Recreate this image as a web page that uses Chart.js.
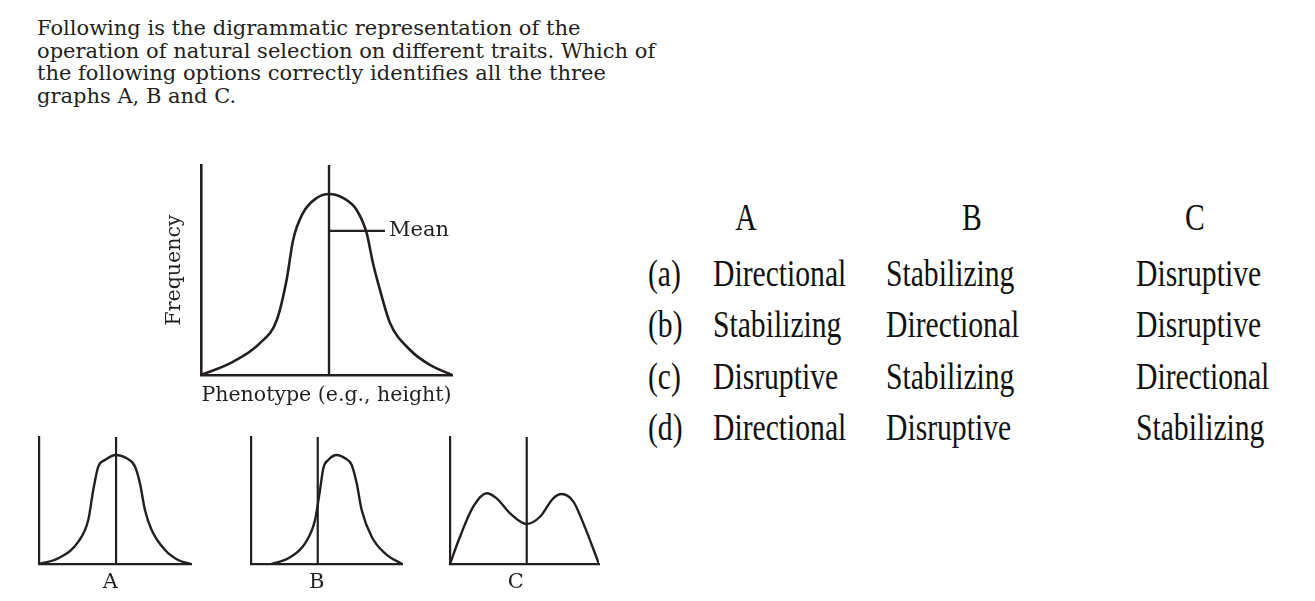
<!DOCTYPE html>
<html>
<head>
<meta charset="utf-8">
<title>Natural selection graphs</title>
<script src="https://cdn.jsdelivr.net/npm/chart.js@4.4.1/dist/chart.umd.min.js"></script>
<style>
    html, body {
        margin: 0;
        padding: 0;
        background: #ffffff;
    }
    body {
        position: relative;
        width: 1315px;
        height: 601px;
        overflow: hidden;
        color: #231f20;
    }
    canvas {
        position: absolute;
    }
    .question {
        position: absolute;
        left: 37px;
        top: 17px;
        font-family: "DejaVu Serif", serif;
        font-size: 21px;
        line-height: 22.7px;
        white-space: nowrap;
    }
    .cell {
        position: absolute;
        font-family: "Liberation Serif", serif;
        font-size: 38px;
        line-height: 38px;
        color: #111111;
        white-space: nowrap;
        transform-origin: 0 0;
        transform: scaleX(0.78);
    }
    .cell.head {
        transform-origin: 50% 0;
        transform: translateX(-50%) scaleX(0.78);
    }
</style>
</head>
<body>
<div class="question" id="question"></div>
<div id="answers"></div>

<script>
const ink = '#231f20';

const questionLines = [
    'Following is the digrammatic representation of the',
    'operation of natural selection on different traits. Which of',
    'the following options correctly identifies all the three',
    'graphs A, B and C.'
];

// big reference graph (phenotype 0-100, frequency 0-100)
const mainPhenotype = [0, 12.7, 23.5, 30.2, 34.1, 36.7, 40.6, 46.1, 51.0, 56.6, 62.0, 66.0, 68.5, 71.3, 75.3, 83.3, 91.2, 100];
const mainFrequency = [0, 6.3, 15.2, 26.2, 45.2, 64.3, 77.1, 84.3, 86.2, 84.3, 78.6, 67.6, 53.3, 40.5, 24.8, 11.9, 4.8, 0];
const mainMean = 51;
const meanMarkLevel = 68.6;
const meanMarkEnd = 73.3;
const xTitle = 'Phenotype (e.g., height)';
const yTitle = 'Frequency';
const meanText = 'Mean';

// graphs A, B, C
const graphNames = ['A', 'B', 'C'];
const graphMeans = [50.7, 44.2, 51.5];
const phenotypeA = [0, 12.7, 25.9, 32.4, 35.7, 39.0, 43.4, 50.7, 57.7, 63.2, 66.4, 69.7, 74.1, 82.9, 91.6, 100];
const frequencyA = [0, 4.5, 17.6, 34.6, 58.3, 76.6, 81.9, 85.8, 83.2, 76.6, 63.5, 42.5, 26.8, 11.0, 3.1, 0];
const phenotypeB = [13.7, 24.7, 35.8, 42.4, 45.7, 47.9, 51.2, 56.8, 62.3, 66.7, 70.0, 73.3, 79.9, 88.7, 100];
const frequencyB = [0, 4.5, 16.3, 34.6, 58.3, 75.4, 81.9, 85.8, 83.2, 78.0, 63.5, 42.5, 21.5, 8.4, 0];
const phenotypeC = [0, 6.7, 15.6, 24.6, 31.3, 40.3, 51.5, 60.4, 69.3, 74.9, 82.8, 89.5, 100];
const frequencyC = [0, 21.5, 45.1, 55.7, 51.7, 39.9, 31.5, 37.2, 51.7, 55.1, 49.1, 32.0, 0];

// answer table
const columnHeads = ['A', 'B', 'C'];
const optionKeys = ['(a)', '(b)', '(c)', '(d)'];
const answersA = ['Directional', 'Stabilizing', 'Disruptive', 'Directional'];
const answersB = ['Stabilizing', 'Directional', 'Stabilizing', 'Disruptive'];
const answersC = ['Disruptive', 'Disruptive', 'Directional', 'Stabilizing'];


function toPoints(xs, ys) {
    return xs.map((x, i) => ({ x: x, y: ys[i] }));
}

function curveSet(points, width) {
    return {
        data: points,
        borderColor: ink,
        borderWidth: width,
        pointRadius: 0,
        cubicInterpolationMode: 'monotone',
        fill: false
    };
}

function straightSet(points, width) {
    return {
        data: points,
        borderColor: ink,
        borderWidth: width,
        pointRadius: 0,
        tension: 0,
        fill: false
    };
}

function addCanvas(box) {
    const canvas = document.createElement('canvas');
    canvas.width = box.w;
    canvas.height = box.h;
    canvas.style.left = box.x + 'px';
    canvas.style.top = box.y + 'px';
    document.body.appendChild(canvas);
    return canvas;
}

// writes "Mean" at the end of the pointer line
const meanLabelPlugin = {
    id: 'meanLabel',
    afterDatasetsDraw(chart, args, opts) {
        if (!opts.text) return;
        const meta = chart.getDatasetMeta(opts.datasetIndex);
        const end = meta.data[meta.data.length - 1];
        const ctx = chart.ctx;
        ctx.save();
        ctx.font = opts.font;
        ctx.fillStyle = ink;
        ctx.textBaseline = 'middle';
        ctx.textAlign = 'left';
        ctx.fillText(opts.text, end.x + opts.gap, end.y);
        ctx.restore();
    }
};

function renderQuestion() {
    const el = document.getElementById('question');
    questionLines.forEach(line => {
        const div = document.createElement('div');
        div.textContent = line;
        el.appendChild(div);
    });
}

function renderMainGraph() {
    const box = { x: 150, y: 150, w: 320, h: 270 };
    const area = { l: 201, t: 165, r: 452, b: 375 };
    const titleSize = 20.5;
    const lineHeight = titleSize * 1.2;
    const padLeft = 12.5;
    const xTitleTop = 8.8;

    new Chart(addCanvas(box), {
        type: 'line',
        data: {
            datasets: [
                curveSet(toPoints(mainPhenotype, mainFrequency), 2.6),
                straightSet([{ x: mainMean, y: 0 }, { x: mainMean, y: 100 }], 2.4),
                straightSet([{ x: mainMean, y: meanMarkLevel }, { x: meanMarkEnd, y: meanMarkLevel }], 2.2)
            ]
        },
        options: {
            responsive: false,
            animation: false,
            devicePixelRatio: 1,
            layout: {
                padding: {
                    left: padLeft,
                    top: area.t - box.y,
                    right: box.x + box.w - area.r,
                    bottom: box.y + box.h - area.b - lineHeight - xTitleTop
                }
            },
            plugins: {
                legend: { display: false },
                tooltip: { enabled: false },
                meanLabel: {
                    text: meanText,
                    datasetIndex: 2,
                    gap: 4,
                    font: '21px "DejaVu Serif"'
                }
            },
            scales: {
                x: {
                    type: 'linear',
                    min: 0,
                    max: 100,
                    grid: { display: false, drawTicks: false },
                    border: { display: true, color: ink, width: 2.6 },
                    ticks: { display: false },
                    title: {
                        display: true,
                        text: xTitle,
                        color: ink,
                        font: { family: 'DejaVu Serif', size: titleSize },
                        padding: { top: xTitleTop, bottom: 0 }
                    }
                },
                y: {
                    type: 'linear',
                    min: 0,
                    max: 100,
                    grid: { display: false, drawTicks: false },
                    border: { display: true, color: ink, width: 2.6 },
                    ticks: { display: false },
                    title: {
                        display: true,
                        text: yTitle,
                        color: ink,
                        font: { family: 'DejaVu Serif', size: titleSize },
                        padding: { top: 0, bottom: area.l - box.x - padLeft - lineHeight }
                    }
                }
            }
        },
        plugins: [meanLabelPlugin]
    });
}

function renderSmallGraph(index, xs, ys, box, area, labelAt) {
    const labelSize = 21;
    const labelPad = 6;
    const labelHeight = labelSize * 1.2 + labelPad * 2;

    new Chart(addCanvas(box), {
        type: 'line',
        data: {
            datasets: [
                curveSet(toPoints(xs, ys), 2.4),
                straightSet([{ x: graphMeans[index], y: 0 }, { x: graphMeans[index], y: 100 }], 2.2)
            ]
        },
        options: {
            responsive: false,
            animation: false,
            devicePixelRatio: 1,
            layout: {
                padding: {
                    left: area.l - box.x,
                    top: area.t - box.y,
                    right: box.x + box.w - area.r,
                    bottom: box.y + box.h - area.b - labelHeight
                }
            },
            plugins: {
                legend: { display: false },
                tooltip: { enabled: false }
            },
            scales: {
                x: {
                    type: 'linear',
                    min: 0,
                    max: 100,
                    grid: { display: false, drawTicks: false },
                    border: { display: true, color: ink, width: 2.2 },
                    afterBuildTicks: axis => { axis.ticks = [{ value: labelAt }]; },
                    ticks: {
                        display: true,
                        autoSkip: false,
                        maxRotation: 0,
                        padding: labelPad,
                        color: ink,
                        font: { family: 'DejaVu Serif', size: labelSize },
                        callback: () => graphNames[index]
                    }
                },
                y: {
                    type: 'linear',
                    min: 0,
                    max: 100,
                    grid: { display: false, drawTicks: false },
                    border: { display: true, color: ink, width: 2.2 },
                    ticks: { display: false }
                }
            }
        }
    });
}

function renderAnswers() {
    const el = document.getElementById('answers');
    const headX = [746, 972, 1195];
    const headY = 217;
    const colX = [648, 713, 886, 1136];
    const firstRowY = 273;
    const rowStep = 51.3;
    const half = 19;

    const put = (text, x, y, head) => {
        const div = document.createElement('div');
        div.className = head ? 'cell head' : 'cell';
        div.textContent = text;
        div.style.left = x + 'px';
        div.style.top = (y - half) + 'px';
        el.appendChild(div);
    };

    columnHeads.forEach((h, i) => put(h, headX[i], headY, true));
    optionKeys.forEach((key, i) => {
        const y = firstRowY + i * rowStep;
        put(key, colX[0], y);
        put(answersA[i], colX[1], y);
        put(answersB[i], colX[2], y);
        put(answersC[i], colX[3], y);
    });
}

renderQuestion();
renderMainGraph();
renderSmallGraph(0, phenotypeA, frequencyA,
    { x: 20, y: 425, w: 185, h: 176 }, { l: 39, t: 437, r: 191, b: 564 }, 46.9);
renderSmallGraph(1, phenotypeB, frequencyB,
    { x: 230, y: 425, w: 185, h: 176 }, { l: 251, t: 437, r: 402, b: 564 }, 43.5);
renderSmallGraph(2, phenotypeC, frequencyC,
    { x: 430, y: 425, w: 185, h: 176 }, { l: 450, t: 437, r: 599, b: 564 }, 44.1);
renderAnswers();
</script>
</body>
</html>
